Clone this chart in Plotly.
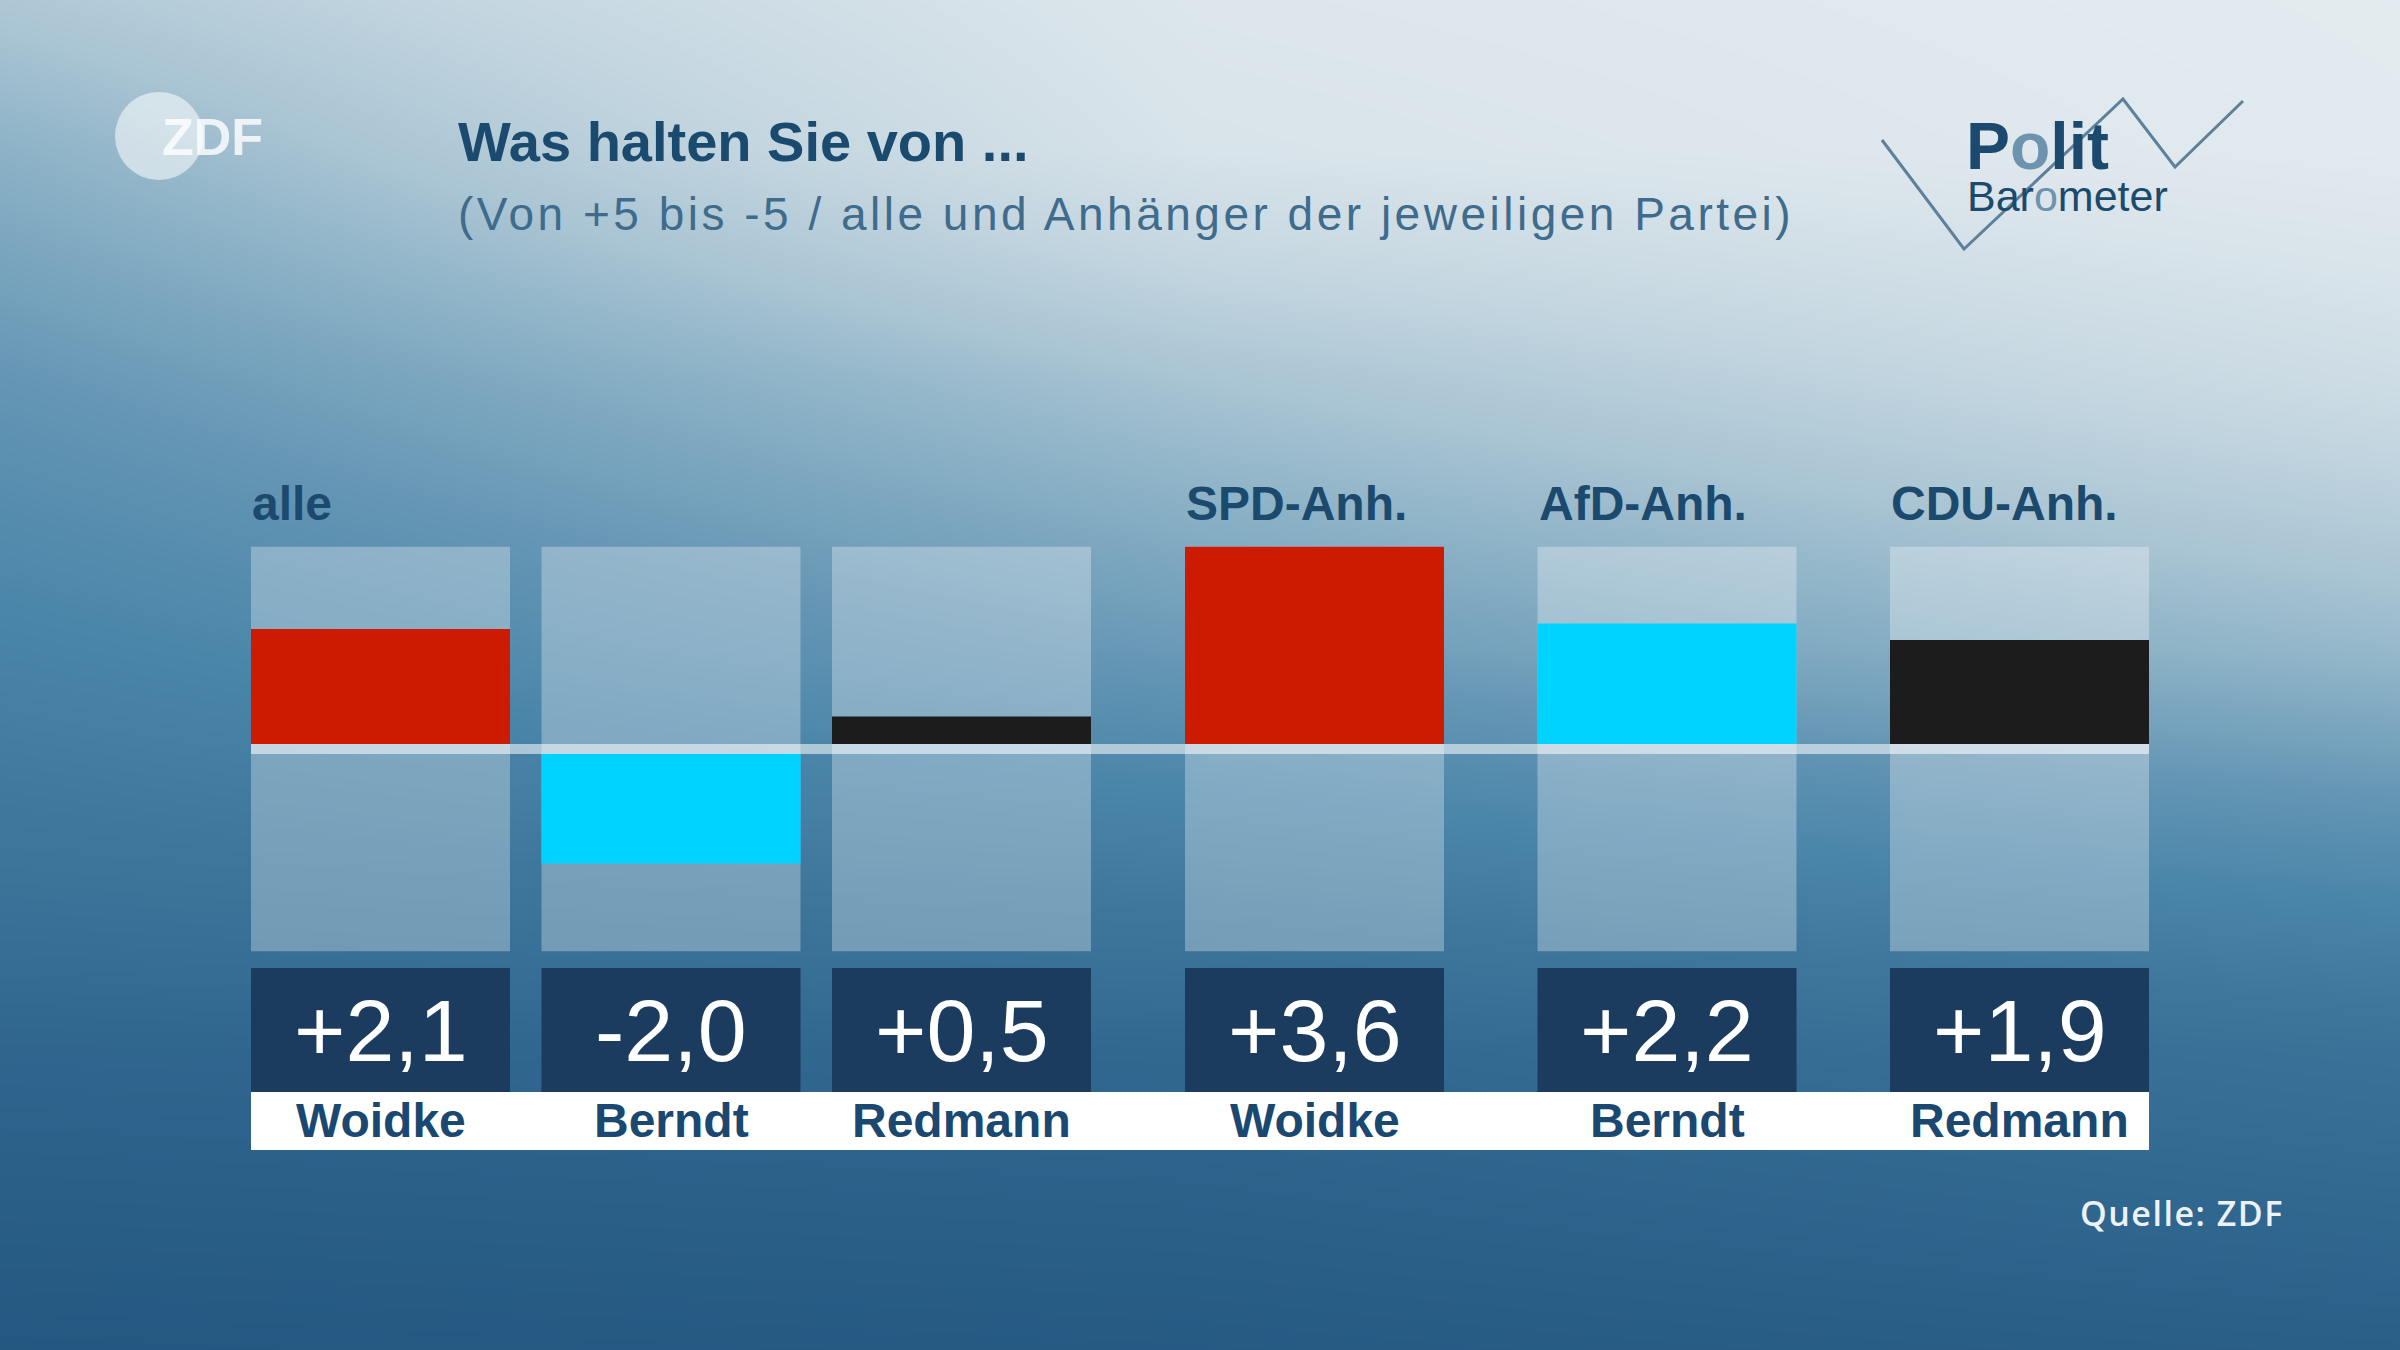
import plotly.graph_objects as go

# ---------------- data ----------------
candidates = ["Woidke", "Berndt", "Redmann", "Woidke", "Berndt", "Redmann"]
groups = ["alle", "alle", "alle", "SPD-Anh.", "AfD-Anh.", "CDU-Anh."]
values = [2.1, -2.0, 0.5, 3.6, 2.2, 1.9]
party_of = {"Woidke": "SPD", "Berndt": "AfD", "Redmann": "CDU"}
party_colors = {"SPD": "#cc1b00", "AfD": "#00d3ff", "CDU": "#1c1c1c"}

title = "Was halten Sie von ..."
subtitle = "(Von +5 bis -5 / alle und Anhänger der jeweiligen Partei)"
source = "Quelle: ZDF"

# ---------------- layout constants (pixels) ----------------
W, H = 2400, 1350
FONT = "Liberation Sans"
DARK = "#1a4a6e"
ZERO_PX = 744          # pixel row of the zero line
PX_PER_UNIT = 54.8     # pixels per scale point
BAND_PX = 10
BW = 259               # bar width in px
G1_LEFT, G1_PITCH = 251, 290.5
G2_LEFT, G2_PITCH = 1185, 352.5
BOX_TOP, BOX_BOT = 968, 1092
STRIP_BOT = 1150


def val(px):
    return (ZERO_PX - px) / PX_PER_UNIT


band = BAND_PX / PX_PER_UNIT
scale_max = max(abs(v) for v in values)

x_centers = []
a = b = 0
for g in groups:
    if g == "alle":
        x_centers.append(G1_LEFT + BW / 2 + a * G1_PITCH)
        a += 1
    else:
        x_centers.append(G2_LEFT + BW / 2 + b * G2_PITCH)
        b += 1
x_left = min(x_centers) - BW / 2
x_right = max(x_centers) + BW / 2

# background gradient (decoration)
bg_x = [0, 1200, 2400]
bg_y = [0, 150, 380, 650, 850, 1050, 1350]
bg_t = [
    [0.72, 0.93, 0.98],
    [0.62, 0.90, 0.97],
    [0.50, 0.70, 0.85],
    [0.38, 0.52, 0.65],
    [0.28, 0.35, 0.45],
    [0.15, 0.17, 0.25],
    [0.04, 0.06, 0.10],
]
bg_scale = [
    [0.0, "#20537d"], [0.1, "#2a5f88"], [0.2, "#346c94"], [0.3, "#3f779c"],
    [0.4, "#4a86a9"], [0.5, "#6495b4"], [0.6, "#85adc3"], [0.7, "#a9c4d3"],
    [0.8, "#c4d6e0"], [0.9, "#d8e3ea"], [1.0, "#e6edf1"],
]

fig = go.Figure()

fig.add_trace(go.Heatmap(
    x=bg_x, y=bg_y, z=bg_t, colorscale=bg_scale, zmin=0, zmax=1,
    zsmooth="best", showscale=False, hoverinfo="skip", xaxis="x", yaxis="y",
))

# background columns
fig.add_trace(go.Bar(
    x=x_centers, y=[scale_max * 2 + band] * len(values),
    base=[-band - scale_max] * len(values), width=BW,
    marker=dict(color="rgba(255,255,255,0.30)", line=dict(width=0)),
    xaxis="x2", yaxis="y2", hoverinfo="skip", showlegend=False,
))

# value bars
fig.add_trace(go.Bar(
    x=x_centers, y=values,
    base=[0 if v >= 0 else -band for v in values], width=BW,
    marker=dict(color=[party_colors[party_of[c]] for c in candidates], line=dict(width=0)),
    xaxis="x2", yaxis="y2", hoverinfo="skip", showlegend=False,
))

# value boxes
fig.add_trace(go.Bar(
    x=x_centers, y=[val(BOX_BOT) - val(BOX_TOP)] * len(values),
    base=[val(BOX_TOP)] * len(values), width=BW,
    marker=dict(color="#1b3b5f", line=dict(width=0)),
    xaxis="x2", yaxis="y2", hoverinfo="skip", showlegend=False,
))

shapes = [
    # zero band
    dict(type="rect", xref="x2", yref="y2", x0=x_left, x1=x_right, y0=-band, y1=0,
         fillcolor="rgba(255,255,255,0.55)", line=dict(width=0), layer="above"),
    # white name strip
    dict(type="rect", xref="x2", yref="y", x0=x_left, x1=x_right, y0=BOX_BOT, y1=STRIP_BOT,
         fillcolor="#ffffff", line=dict(width=0), layer="above"),
    # ZDF circle
    dict(type="circle", xref="x", yref="y", x0=115, x1=203, y0=92, y1=180,
         fillcolor="rgba(255,255,255,0.55)", line=dict(width=0), layer="above"),
    # Politbarometer zigzag
    dict(type="path", xref="x", yref="y",
         path="M 1882,140 L 1964,249 L 2123,99 L 2175,167 L 2243,101",
         line=dict(color="#5d819b", width=3), layer="above"),
]

ann = []
# title / subtitle
ann.append(dict(text=f"<b>{title}</b>", x=456, y=141, xref="x", yref="y", xanchor="left",
                yanchor="middle", showarrow=False, font=dict(family=FONT, size=56, color=DARK)))
ann.append(dict(text=f"<span style='letter-spacing:3.5px'>{subtitle}</span>", x=456, y=214,
                xref="x", yref="y", xanchor="left",
                yanchor="middle", showarrow=False, font=dict(family=FONT, size=46, color="#3f6c8c")))
# ZDF logo text
ann.append(dict(text="<b>ZDF</b>", x=160, y=137, xref="x", yref="y", xanchor="left",
                yanchor="middle", showarrow=False,
                font=dict(family=FONT, size=52, color="rgba(255,255,255,0.8)")))
# Politbarometer logo
ann.append(dict(text="<b>P<span style='color:#6d93ad'>o</span>lit</b>", x=1964, y=146,
                xref="x", yref="y", xanchor="left", yanchor="middle", showarrow=False,
                font=dict(family=FONT, size=66, color="#1b4a6e")))
ann.append(dict(text="Bar<span style='color:#6d93ad'>o</span>meter", x=1965, y=196,
                xref="x", yref="y", xanchor="left", yanchor="middle", showarrow=False,
                font=dict(family=FONT, size=43, color="#1b4a6e")))

# group labels
seen = set()
for g, xc in zip(groups, x_centers):
    if g in seen:
        continue
    seen.add(g)
    ann.append(dict(text=f"<b>{g}</b>", x=xc - BW / 2 - 1, y=503, xref="x2", yref="y",
                    xanchor="left", yanchor="middle", showarrow=False,
                    font=dict(family=FONT, size=48, color="#1b4a6e")))

# value labels and names
for c, v, xc in zip(candidates, values, x_centers):
    label = f"{v:+.1f}".replace(".", ",")
    ann.append(dict(text=label, x=xc, y=(BOX_TOP + BOX_BOT) / 2, xref="x2", yref="y",
                    xanchor="center", yanchor="middle", showarrow=False,
                    font=dict(family=FONT, size=88, color="#ffffff")))
    ann.append(dict(text=f"<b>{c}</b>", x=xc, y=(BOX_BOT + STRIP_BOT) / 2 - 1, xref="x2", yref="y",
                    xanchor="center", yanchor="middle", showarrow=False,
                    font=dict(family=FONT, size=48, color="#1a4870")))

# source
ann.append(dict(text=f"<span style='letter-spacing:1.5px'>{source}</span>", x=2286, y=1213,
                xref="x", yref="y", xanchor="right",
                yanchor="middle", showarrow=False,
                font=dict(family="Open Sans", size=34, color="#eef2f8", weight=600)))

fig.update_layout(
    width=W, height=H, margin=dict(l=0, r=0, t=0, b=0),
    paper_bgcolor="#3f779c", plot_bgcolor="rgba(0,0,0,0)",
    barmode="overlay", showlegend=False,
    xaxis=dict(range=[0, W], visible=False, fixedrange=True),
    yaxis=dict(range=[H, 0], visible=False, fixedrange=True),
    xaxis2=dict(range=[0, W], visible=False, overlaying="x", anchor="y2", fixedrange=True),
    yaxis2=dict(range=[val(H), val(0)], visible=False, overlaying="y", anchor="x2", fixedrange=True),
    shapes=shapes, annotations=ann,
)

fig.write_html("out.html", config={"displayModeBar": False})
